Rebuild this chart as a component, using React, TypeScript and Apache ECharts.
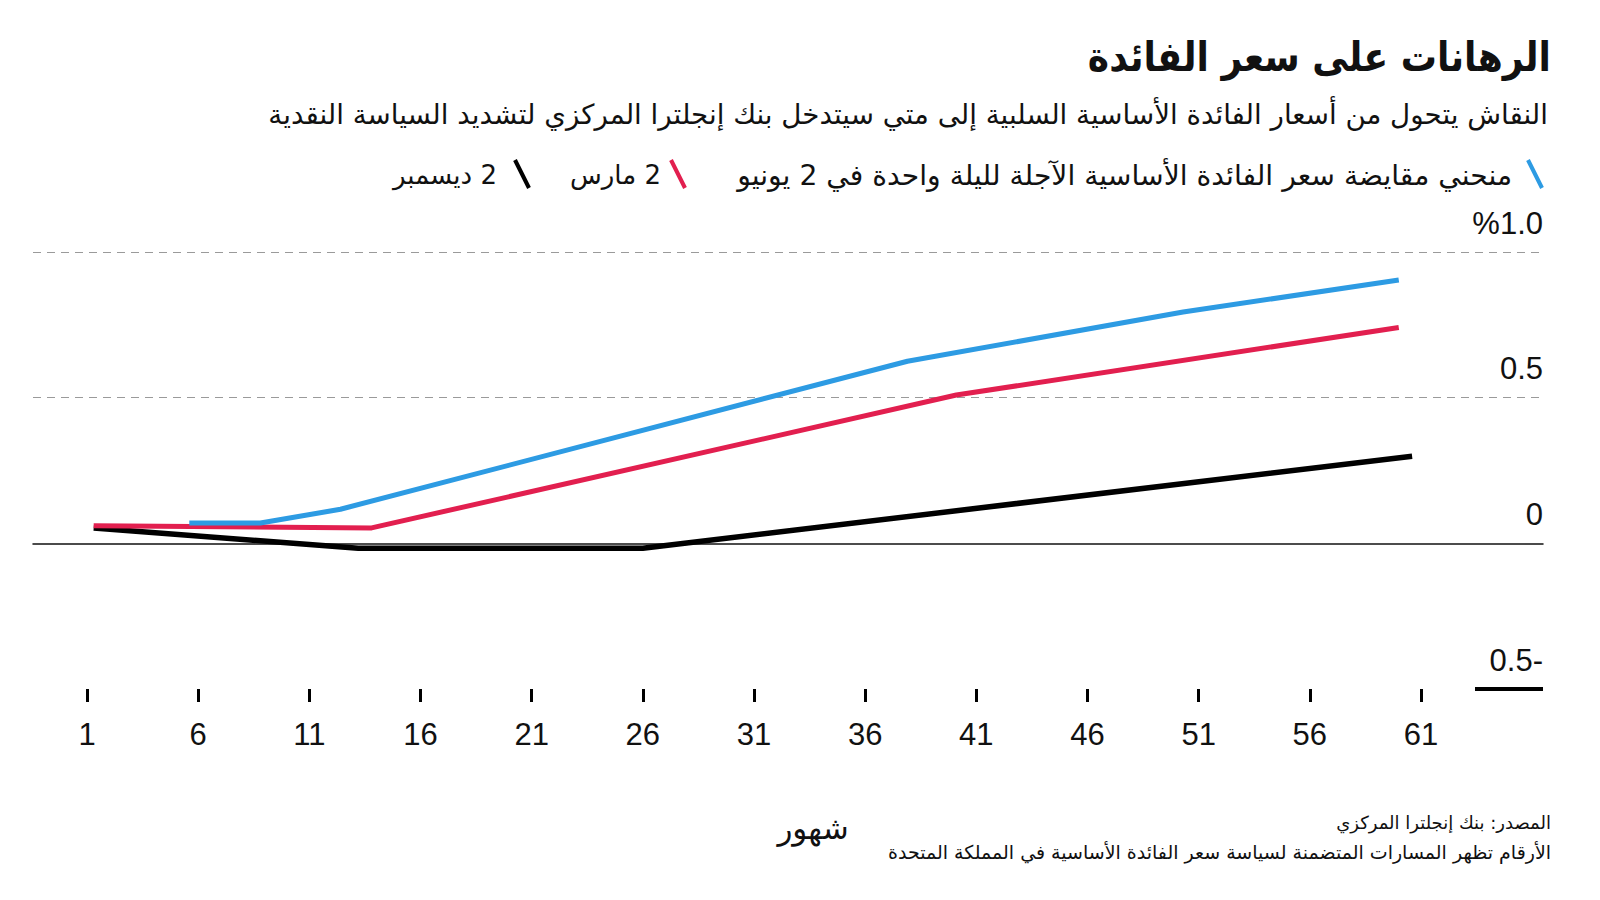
import React, { useEffect, useRef } from "react";
import * as echarts from "echarts";

// ---- texts ----
const TITLE = "الرهانات على سعر الفائدة";
const SUBTITLE =
  "النقاش يتحول من أسعار الفائدة الأساسية السلبية إلى متي سيتدخل بنك إنجلترا المركزي لتشديد السياسة النقدية";
const LEGEND_JUNE = "منحني مقايضة سعر الفائدة الأساسية الآجلة لليلة واحدة في 2 يونيو";
const LEGEND_MARCH = "\u200F2 مارس";
const LEGEND_DEC = "\u200F2 ديسمبر";
const SOURCE = "المصدر: بنك إنجلترا المركزي";
const NOTE = "الأرقام تظهر المسارات المتضمنة لسياسة سعر الفائدة الأساسية في المملكة المتحدة";
const X_TITLE = "شهور";

// ---- axes ----
const monthTickLabels = ["1", "6", "11", "16", "21", "26", "31", "36", "41", "46", "51", "56", "61"];
const yValues = [-0.5, 0, 0.5, 1.0];
const yTickLabels = ["0.5-", "0", "0.5", "%1.0"];

// ---- series (month, %) ----
const juneMonths = [5.6, 8.8, 12.4, 37.9, 50.3, 60];
const juneValues = [0.07, 0.07, 0.117, 0.625, 0.794, 0.904];
const marchMonths = [1.3, 13.8, 40.1, 60];
const marchValues = [0.06, 0.053, 0.509, 0.741];
const decMonths = [1.3, 13.2, 26, 60.6];
const decValues = [0.053, -0.017, -0.017, 0.299];

const BLUE = "#2d9be3";
const RED = "#e21f4f";
const BLACK = "#000000";

const ARABIC = "'DejaVu Sans', 'Noto Sans', sans-serif";
const NUM = "'Liberation Sans', Arial, sans-serif";

const pairs = (ms: number[], vs: number[]) => ms.map((m, i) => [m - 1, vs[i]]);

export default function App() {
  const ref = useRef<HTMLDivElement>(null);
  useEffect(() => {
    if (!ref.current) return;
    const chart = echarts.init(ref.current, undefined, { renderer: "svg" });
    const option: any = {
      animation: false,
      backgroundColor: "#ffffff",
      grid: [
        { left: 33, right: 57, top: 252, bottom: 211 },
        { left: 87, right: 179, top: 252, bottom: 211 },
      ],
      xAxis: [
        {
          gridIndex: 0,
          type: "value",
          min: 0,
          max: 1,
          axisLine: { show: true, onZero: true, lineStyle: { color: "#111", width: 1.5 } },
          axisTick: { show: false },
          axisLabel: { show: false },
          splitLine: { show: false },
        },
        {
          gridIndex: 1,
          type: "value",
          min: 0,
          max: 60,
          interval: 5,
          axisLine: { show: false, onZero: false },
          axisTick: { show: true, length: 13, lineStyle: { color: "#000", width: 3 } },
          axisLabel: {
            margin: 30,
            fontSize: 31,
            color: "#111",
            fontFamily: NUM,
            formatter: (v: number) => monthTickLabels[Math.round(v / 5)] ?? "",
          },
          splitLine: { show: false },
        },
      ],
      yAxis: [
        {
          gridIndex: 0,
          type: "value",
          position: "right",
          min: -0.5,
          max: 1,
          interval: 0.5,
          axisLine: { show: false },
          axisTick: { show: false },
          axisLabel: {
            inside: true,
            margin: 0,
            fontSize: 31,
            color: "#111",
            fontFamily: NUM,
            verticalAlign: "bottom",
            lineHeight: 58,
            formatter: (v: number) => {
              const i = yValues.findIndex((y) => Math.abs(y - v) < 1e-6);
              return i >= 0 ? yTickLabels[i] : "";
            },
          },
          splitLine: {
            show: true,
            lineStyle: { color: ["transparent", "transparent", "#9a9a9a", "#9a9a9a"], type: [8, 6], width: 1 },
          },
        },
        { gridIndex: 1, type: "value", min: -0.5, max: 1, interval: 0.5, show: false, splitLine: { show: false } },
      ],
      series: [
        {
          name: "2 ديسمبر",
          type: "line",
          xAxisIndex: 1,
          yAxisIndex: 1,
          showSymbol: false,
          data: pairs(decMonths, decValues),
          lineStyle: { color: BLACK, width: 5.5 },
          z: 3,
        },
        {
          name: "2 مارس",
          type: "line",
          xAxisIndex: 1,
          yAxisIndex: 1,
          showSymbol: false,
          data: pairs(marchMonths, marchValues),
          lineStyle: { color: RED, width: 5 },
          z: 4,
        },
        {
          name: "2 يونيو",
          type: "line",
          xAxisIndex: 1,
          yAxisIndex: 1,
          showSymbol: false,
          data: pairs(juneMonths, juneValues),
          lineStyle: { color: BLUE, width: 5 },
          z: 5,
        },
      ],
    };
    chart.setOption(option);

    const yNeg = chart.convertToPixel({ yAxisIndex: 0 }, -0.5) as number;
    const xRight = chart.convertToPixel({ xAxisIndex: 0 }, 1) as number;

    const text = (
      x: number,
      y: number,
      t: string,
      size: number,
      weight: any = "normal",
      align = "right",
      scaleX = 1
    ) => ({
      type: "text",
      x,
      y,
      scaleX,
      style: {
        text: t,
        fontSize: size,
        fontWeight: weight,
        fontFamily: ARABIC,
        fill: "#111",
        align,
        verticalAlign: "middle",
      },
    });
    const slash = (x: number, color: string) => ({
      type: "line",
      shape: { x1: x - 7, y1: 160, x2: x + 7, y2: 188 },
      style: { stroke: color, lineWidth: 4, lineCap: "butt" },
    });

    chart.setOption({
      graphic: [
        text(1551, 57, TITLE, 41, "bold", "right", 0.88),
        text(1548, 114, SUBTITLE, 27.7),
        slash(1535, BLUE),
        text(1512, 175, LEGEND_JUNE, 28.2),
        slash(678, RED),
        text(661, 175, LEGEND_MARCH, 26),
        slash(522, BLACK),
        text(497, 175, LEGEND_DEC, 26),
        {
          type: "line",
          shape: { x1: 1475, y1: yNeg, x2: xRight, y2: yNeg },
          style: { stroke: "#000", lineWidth: 4 },
        },
        text(813, 828, X_TITLE, 31, "normal", "center"),
        text(1551, 822, SOURCE, 18),
        text(1551, 852, NOTE, 19),
      ],
    });

    return () => chart.dispose();
  }, []);
  return (
    <div
      ref={ref}
      style={{ position: "fixed", left: 0, top: 0, width: 1600, height: 900, background: "#fff" }}
    />
  );
}
